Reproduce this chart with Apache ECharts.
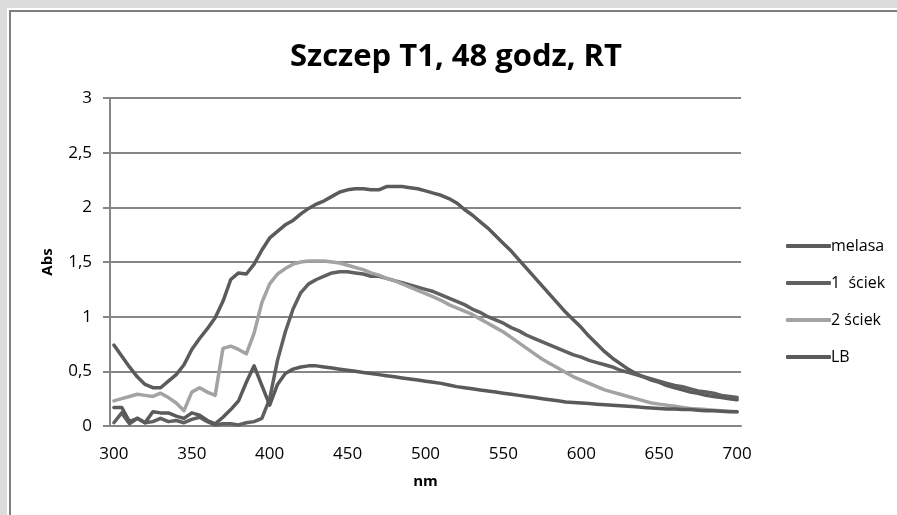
<!DOCTYPE html>
<html><head><meta charset="utf-8">
<script src="https://cdn.jsdelivr.net/npm/echarts@6/dist/echarts.min.js"></script>
<style>html,body{margin:0;padding:0;background:#ffffff;overflow:hidden;}#c{width:897px;height:515px;}</style>
</head><body><div id="c"></div>
<script>
const titleText = 'Szczep T1, 48 godz, RT';
const wavelengths = [300,305,310,315,320,325,330,335,340,345,350,355,360,365,370,375,380,385,390,395,400,405,410,415,420,425,430,435,440,445,450,455,460,465,470,475,480,485,490,495,500,505,510,515,520,525,530,535,540,545,550,555,560,565,570,575,580,585,590,595,600,605,610,615,620,625,630,635,640,645,650,655,660,665,670,675,680,685,690,695,700];
const seriesNames = ['melasa','1  ściek','2 ściek','LB'];
const melasa = [0.74,0.64,0.54,0.45,0.38,0.35,0.35,0.41,0.47,0.56,0.70,0.80,0.89,0.99,1.14,1.34,1.40,1.39,1.48,1.61,1.72,1.78,1.84,1.88,1.94,1.99,2.03,2.06,2.10,2.14,2.16,2.17,2.17,2.16,2.16,2.19,2.19,2.19,2.18,2.17,2.15,2.13,2.11,2.08,2.04,1.98,1.93,1.87,1.81,1.74,1.67,1.60,1.52,1.44,1.36,1.28,1.20,1.12,1.04,0.97,0.90,0.82,0.75,0.68,0.62,0.57,0.52,0.48,0.45,0.42,0.40,0.37,0.35,0.33,0.31,0.30,0.28,0.27,0.26,0.25,0.24];
const sciek1 = [0.03,0.12,0.02,0.07,0.03,0.04,0.07,0.04,0.05,0.03,0.06,0.08,0.04,0.01,0.02,0.02,0.01,0.03,0.04,0.07,0.25,0.60,0.86,1.07,1.22,1.30,1.34,1.37,1.40,1.41,1.41,1.40,1.39,1.37,1.37,1.35,1.33,1.31,1.29,1.27,1.25,1.23,1.20,1.17,1.14,1.11,1.07,1.04,1.00,0.97,0.94,0.90,0.87,0.83,0.80,0.77,0.74,0.71,0.68,0.65,0.63,0.60,0.58,0.56,0.54,0.51,0.49,0.47,0.45,0.43,0.41,0.39,0.37,0.36,0.34,0.32,0.31,0.30,0.28,0.27,0.26];
const sciek2 = [0.23,0.25,0.27,0.29,0.28,0.27,0.30,0.26,0.21,0.14,0.31,0.35,0.31,0.28,0.71,0.73,0.70,0.66,0.85,1.13,1.30,1.39,1.44,1.48,1.50,1.51,1.51,1.51,1.50,1.49,1.47,1.45,1.43,1.40,1.38,1.35,1.33,1.30,1.27,1.24,1.21,1.18,1.15,1.11,1.08,1.05,1.02,0.98,0.94,0.90,0.86,0.81,0.76,0.71,0.66,0.61,0.57,0.53,0.49,0.45,0.42,0.39,0.36,0.33,0.31,0.29,0.27,0.25,0.23,0.21,0.20,0.19,0.18,0.17,0.16,0.155,0.15,0.145,0.14,0.135,0.13];
const lb = [0.17,0.17,0.04,0.07,0.03,0.13,0.12,0.12,0.09,0.07,0.12,0.10,0.05,0.02,0.08,0.15,0.23,0.40,0.55,0.37,0.19,0.38,0.48,0.52,0.54,0.55,0.55,0.54,0.53,0.52,0.51,0.50,0.49,0.48,0.47,0.46,0.45,0.44,0.43,0.42,0.41,0.40,0.39,0.375,0.36,0.35,0.34,0.33,0.32,0.31,0.30,0.29,0.28,0.27,0.26,0.25,0.24,0.23,0.22,0.215,0.21,0.205,0.20,0.195,0.19,0.185,0.18,0.175,0.17,0.165,0.16,0.155,0.155,0.15,0.15,0.145,0.14,0.14,0.135,0.13,0.13];
const colors = ['#5b5b5b','#606060','#a3a3a3','#5a5a5a'];
const allData = [melasa, sciek1, sciek2, lb];

const FONT = "'Open Sans', sans-serif";
const chart = echarts.init(document.getElementById('c'), null, {renderer:'canvas'});
chart.setOption({
  backgroundColor: '#ffffff',
  animation: false,
  color: colors,
  graphic: [
    {type: 'rect', z: -10, silent: true, shape: {x: 0, y: 0, width: 897, height: 8}, style: {fill: '#dcdcdc'}},
    {type: 'rect', z: -10, silent: true, shape: {x: 0, y: 0, width: 7, height: 515}, style: {fill: '#dcdcdc'}},
    {type: 'line', z: -9, silent: true, shape: {x1: 9, y1: 11, x2: 897, y2: 11}, style: {stroke: '#7f7f7f', lineWidth: 2}},
    {type: 'line', z: -9, silent: true, shape: {x1: 10, y1: 10, x2: 10, y2: 515}, style: {stroke: '#7f7f7f', lineWidth: 2}}
  ],
  title: {
    text: titleText, left: 451, top: 37, textAlign: 'center',
    textStyle: {fontFamily: FONT, fontWeight: 'bold', fontSize: 31, color: '#000'}
  },
  legend: {
    orient: 'vertical', left: 781, top: 231, itemGap: 17,
    itemWidth: 45, itemHeight: 4, icon: 'roundRect',
    textStyle: {fontFamily: FONT, fontSize: 16, color: '#000', lineHeight: 20, padding: [0,0,0,-5]},
    data: seriesNames
  },
  grid: {left: 110, right: 156, top: 98, bottom: 89, containLabel: false},
  xAxis: {
    type: 'category', data: wavelengths, boundaryGap: true,
    name: 'nm', nameLocation: 'middle', nameGap: 48,
    nameTextStyle: {fontFamily: FONT, fontWeight: 'bold', fontSize: 15, color: '#000'},
    axisLine: {lineStyle: {color: '#868686', width: 2}},
    axisTick: {show: false},
    axisLabel: {interval: 9, margin: 20, fontFamily: FONT, fontSize: 17, color: '#000'}
  },
  yAxis: {
    type: 'value', min: 0, max: 3, interval: 0.5,
    name: 'Abs', nameLocation: 'middle', nameGap: 55, nameRotate: 90,
    nameTextStyle: {fontFamily: FONT, fontWeight: 'bold', fontSize: 15, color: '#000'},
    axisLine: {show: true, lineStyle: {color: '#868686', width: 2}},
    axisTick: {show: true, length: 7, lineStyle: {color: '#868686', width: 2}},
    splitLine: {lineStyle: {color: '#868686', width: 2}},
    axisLabel: {margin: 18, fontFamily: FONT, fontSize: 17, color: '#000',
      formatter: v => String(v).replace('.', ',')}
  },
  series: seriesNames.map((n, i) => ({
    name: n, type: 'line', data: allData[i], showSymbol: false, symbol: 'none',
    lineStyle: {width: 3.5, color: colors[i], join: 'round', cap: 'round'},
    itemStyle: {color: colors[i]}
  }))
});
</script></body></html>
